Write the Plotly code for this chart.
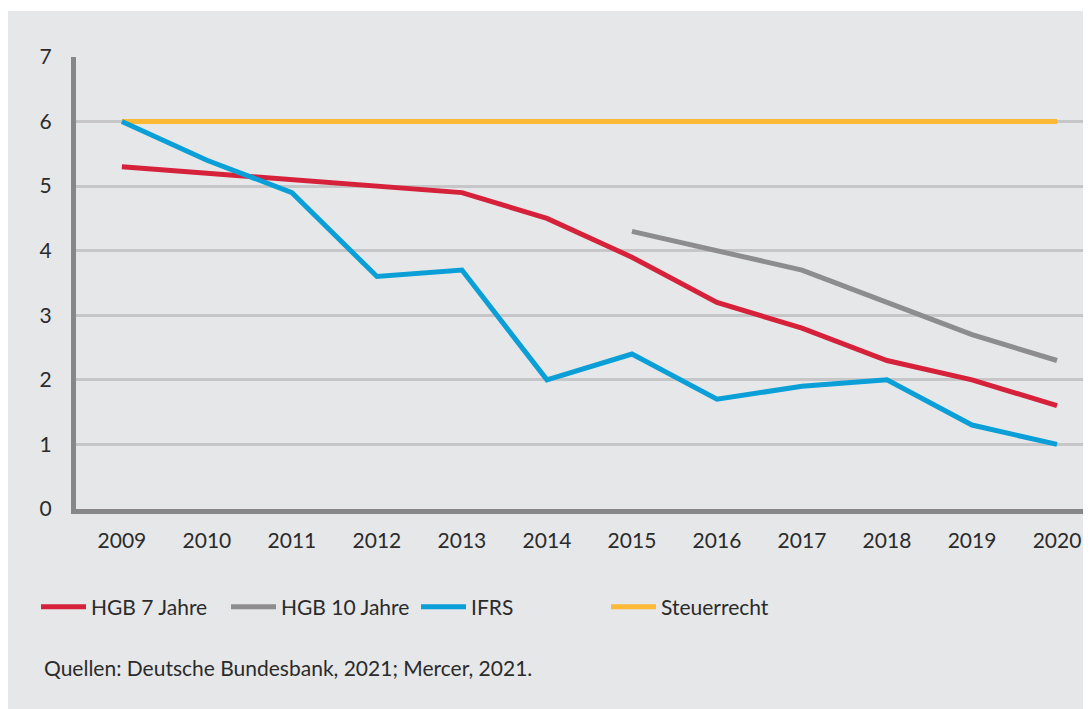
import plotly.graph_objects as go

years = ["2009", "2010", "2011", "2012", "2013", "2014", "2015", "2016", "2017", "2018", "2019", "2020"]
hgb7 = [5.3, 5.2, 5.1, 5.0, 4.9, 4.5, 3.9, 3.2, 2.8, 2.3, 2.0, 1.6]
hgb10_years = ["2015", "2016", "2017", "2018", "2019", "2020"]
hgb10 = [4.3, 4.0, 3.7, 3.2, 2.7, 2.3]
ifrs = [6.0, 5.4, 4.9, 3.6, 3.7, 2.0, 2.4, 1.7, 1.9, 2.0, 1.3, 1.0]
steuer = [6, 6, 6, 6, 6, 6, 6, 6, 6, 6, 6, 6]

BG = "#e6e7e9"
FONT = "Lato"
TXT = "#2b2b2b"
OFF = 8  # page body margin
W, H = 1091 - OFF, 709 - OFF
L, R, T, B = 76 - OFF, 0, 57 - OFF, 709 - 509
pw, ph = W - L - R, H - T - B

def px(x):
    return (x - OFF - L) / pw

def py(y):
    return (H - B - (y - OFF)) / ph

fig = go.Figure()
fig.add_trace(go.Scatter(x=years, y=steuer, name="Steuerrecht", mode="lines",
                         line=dict(color="#fbb935", width=5), legendrank=4))
fig.add_trace(go.Scatter(x=years, y=hgb7, name="HGB 7 Jahre", mode="lines",
                         line=dict(color="#d6213a", width=5), legendrank=1))
fig.add_trace(go.Scatter(x=hgb10_years, y=hgb10, name="HGB 10 Jahre", mode="lines",
                         line=dict(color="#8d8d8f", width=5), legendrank=2))
fig.add_trace(go.Scatter(x=years, y=ifrs, name="IFRS", mode="lines",
                         line=dict(color="#0a9fd7", width=5), legendrank=3))

fig.update_layout(
    width=W, height=H,
    margin=dict(l=L, r=R, t=T, b=B),
    paper_bgcolor=BG, plot_bgcolor=BG,
    font=dict(family=FONT, size=21, color=TXT),
    showlegend=True,
    legend=dict(orientation="h", x=px(36), y=py(607), yanchor="middle", xanchor="left",
                font=dict(size=21, color=TXT), bgcolor="rgba(0,0,0,0)",
                itemwidth=45, entrywidth=130, entrywidthmode="pixels"),
    xaxis=dict(type="category", range=[-0.54, 11.4], showgrid=False, zeroline=False,
               showline=True, linecolor="#87878a", linewidth=5, ticks="",
               ticklabelstandoff=9, tickfont=dict(size=21, color=TXT)),
    yaxis=dict(range=[0, 7], dtick=1, showgrid=True, gridcolor="#c6c6c8", gridwidth=2.5,
               zeroline=False, showline=True, linecolor="#87878a", linewidth=5, ticks="",
               ticklabelstandoff=15, tickfont=dict(size=21, color=TXT)),
    shapes=[
        dict(type="rect", xref="paper", yref="paper", x0=px(0), x1=px(1100), y0=py(11), y1=py(0),
             fillcolor="white", line=dict(width=0), layer="below"),
    ],
    annotations=[
        dict(text="Quellen: Deutsche Bundesbank, 2021; Mercer, 2021.", xref="paper", yref="paper",
             x=px(42), y=py(667), xanchor="left", yanchor="middle", showarrow=False,
             font=dict(size=21, color=TXT)),
    ],
)

fig.write_html("out.html")
